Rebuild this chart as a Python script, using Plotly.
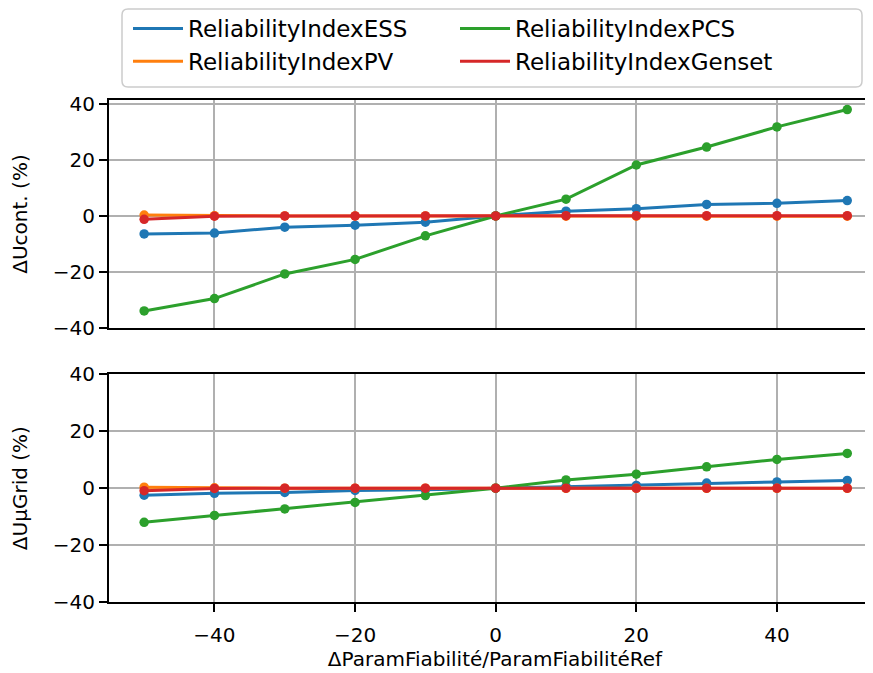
import plotly.graph_objects as go

x_values = [-50, -40, -30, -20, -10, 0, 10, 20, 30, 40, 50]

series_names = ["ReliabilityIndexESS", "ReliabilityIndexPV", "ReliabilityIndexPCS", "ReliabilityIndexGenset"]
series_colors = ["#1f77b4", "#ff7f0e", "#2ca02c", "#d62728"]
legend_ranks = [1, 3, 2, 4]

# Top panel: ΔUcont. (%)
ucont_ess = [-6.4, -6.1, -4.0, -3.3, -2.2, 0.0, 1.7, 2.6, 4.1, 4.5, 5.5]
ucont_pv = [0.3, 0.1, 0.0, 0.0, 0.0, 0.0, -0.1, -0.1, -0.1, -0.1, -0.1]
ucont_pcs = [-33.9, -29.5, -20.7, -15.5, -7.1, 0.0, 6.0, 18.2, 24.6, 31.8, 38.0]
ucont_genset = [-1.2, -0.1, 0.0, 0.0, 0.0, 0.0, 0.1, 0.1, 0.1, 0.1, 0.1]

# Bottom panel: ΔUµGrid (%)
ugrid_ess = [-2.5, -1.8, -1.5, -0.8, -0.6, 0.0, 0.6, 0.95, 1.8, 2.2, 2.7]
ugrid_pv = [0.35, 0.1, 0.0, 0.0, 0.0, 0.0, -0.05, -0.05, -0.05, -0.05, -0.05]
ugrid_pcs = [-12.0, -9.6, -7.3, -5.0, -2.6, 0.0, 2.9, 4.9, 7.5, 10.1, 12.2]
ugrid_genset = [-0.9, -0.1, 0.0, 0.0, 0.0, 0.0, 0.0, 0.0, 0.0, 0.0, 0.0]

top_data = [ucont_ess, ucont_pv, ucont_pcs, ucont_genset]
bottom_data = [ugrid_ess, ugrid_pv, ugrid_pcs, ugrid_genset]

x_ticks = [-40, -20, 0, 20, 40]
y_ticks = [-40, -20, 0, 20, 40]

FONT = "DejaVu Sans"
fig = go.Figure()

for panel, (data, xa, ya) in enumerate([(top_data, "x", "y"), (bottom_data, "x2", "y2")]):
    for name, color, rank, vals in zip(series_names, series_colors, legend_ranks, data):
        fig.add_trace(go.Scatter(
            x=x_values, y=vals, mode="lines", name=name,
            line=dict(color=color, width=3),
            showlegend=(panel == 0), legendgroup=name, legendrank=rank,
            xaxis=xa, yaxis=ya, hoverinfo="skip",
        ))
        fig.add_trace(go.Scatter(
            x=x_values, y=vals, mode="markers", name=name,
            marker=dict(color=color, size=9.5),
            showlegend=False, legendgroup=name,
            xaxis=xa, yaxis=ya,
        ))

axis_common = dict(
    showgrid=True, gridcolor="#b0b0b0", gridwidth=1.5,
    showline=True, linecolor="black", linewidth=2,
    zeroline=False,
    tickfont=dict(family=FONT, size=20, color="black"),
    ticks="outside", ticklen=8, tickwidth=2, tickcolor="black",
)

# figure is placed at (8, 8) inside the page by the browser's body margin
W, H = 873, 673
ML, MT, MB = 101, 92, 79
plot_w = W - ML
plot_h = H - MT - MB
xrange = [-55, 54.8]

# legend frame (rounded rectangle) in paper coordinates
bx0, bx1 = (114 - ML) / plot_w, (854 - ML) / plot_w
by1, by0 = 1 + (MT - 1) / plot_h, 1 + (MT - 79) / plot_h
rx, ry = 6 / plot_w, 6 / plot_h
frame_path = (
    f"M{bx0 + rx},{by1} L{bx1 - rx},{by1} Q{bx1},{by1} {bx1},{by1 - ry} "
    f"L{bx1},{by0 + ry} Q{bx1},{by0} {bx1 - rx},{by0} "
    f"L{bx0 + rx},{by0} Q{bx0},{by0} {bx0},{by0 + ry} "
    f"L{bx0},{by1 - ry} Q{bx0},{by1} {bx0 + rx},{by1} Z"
)

fig.update_layout(
    width=W, height=H,
    margin=dict(l=ML, r=0, t=MT, b=MB, autoexpand=False),
    paper_bgcolor="white", plot_bgcolor="white",
    font=dict(family=FONT, size=20, color="black"),
    xaxis=dict(**{**axis_common, "ticks": ""}, domain=[0, 1], range=xrange, tickvals=x_ticks,
               showticklabels=False, anchor="y", mirror=True),
    yaxis=dict(**axis_common, domain=[0.5458, 1], range=[-40, 41.4], tickvals=y_ticks,
               anchor="x",
               title=dict(text="ΔUcont. (%)", font=dict(family=FONT, size=20), standoff=25)),
    xaxis2=dict(**axis_common, domain=[0, 1], range=xrange, tickvals=x_ticks, anchor="y2",
                mirror=True, ticklabelstandoff=6,
                title=dict(text="ΔParamFiabilité/ParamFiabilitéRef", font=dict(family=FONT, size=20), standoff=6)),
    yaxis2=dict(**axis_common, domain=[0, 0.4536], range=[-40, 40], tickvals=y_ticks,
                anchor="x2",
                title=dict(text="ΔUµGrid (%)", font=dict(family=FONT, size=20), standoff=25)),
    legend=dict(
        orientation="h", x=(120 - ML) / plot_w, y=1 + (MT + 1) / plot_h,
        xanchor="left", yanchor="top",
        entrywidth=262, entrywidthmode="pixels",
        borderwidth=0, bgcolor="rgba(0,0,0,0)",
        font=dict(family=FONT, size=23, color="black"),
        itemwidth=50, tracegroupgap=0,
    ),
    shapes=[dict(type="path", xref="paper", yref="paper", path=frame_path,
                 line=dict(color="#cccccc", width=1.5), fillcolor="white", layer="below")],
    showlegend=True,
)

fig.write_html("out.html")
